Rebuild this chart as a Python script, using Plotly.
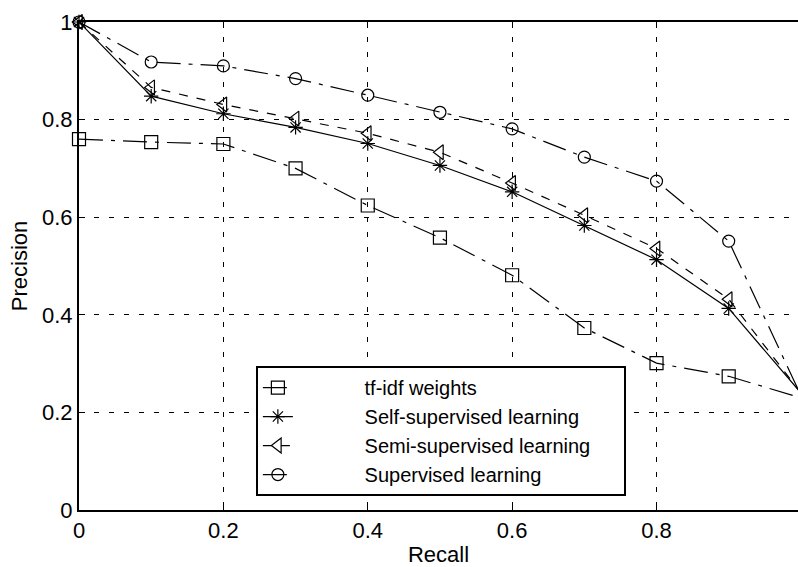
import plotly.graph_objects as go

recall = [0.0, 0.1, 0.2, 0.3, 0.4, 0.5, 0.6, 0.7, 0.8, 0.9, 1.0]
tfidf = [0.76, 0.754, 0.75, 0.70, 0.624, 0.558, 0.481, 0.373, 0.301, 0.274, 0.23]
self_sup = [1.0, 0.848, 0.812, 0.784, 0.751, 0.706, 0.652, 0.583, 0.513, 0.413, 0.24]
semi_sup = [1.0, 0.866, 0.831, 0.802, 0.772, 0.733, 0.670, 0.604, 0.536, 0.432, 0.24]
supervised = [1.0, 0.918, 0.910, 0.884, 0.850, 0.815, 0.781, 0.723, 0.674, 0.551, 0.235]

names = ["tf-idf weights", "Self-supervised learning", "Semi-supervised learning", "Supervised learning"]
tick_vals = [0, 0.2, 0.4, 0.6, 0.8, 1]
tick_text = ["0", "0.2", "0.4", "0.6", "0.8", "1"]

FONT = "Liberation Sans, Arial, sans-serif"
LPAD = "\u00a0" * 12
RPAD = "\u00a0" * 5

fig = go.Figure()
series = [
    (tfidf, names[0], "square-open", "24px,8px,4px,8px", 13),
    (self_sup, names[1], "asterisk-open", "solid", 12),
    (semi_sup, names[2], "triangle-left-open", "9px,9px", 13),
    (supervised, names[3], "circle-open", "24px,8px,4px,8px", 12),
]
for ys, nm, sym, dash, ms in series:
    fig.add_trace(go.Scatter(
        x=recall, y=ys, name=LPAD + nm + RPAD,
        mode="lines+markers",
        line=dict(color="black", width=1.2, dash=dash),
        marker=dict(symbol=sym, size=ms, color="black", line=dict(color="black", width=1.2)),
        cliponaxis=False,
    ))

fig.add_annotation(x=1, y=0, xref="x", yref="y", text="1", showarrow=False,
                   yanchor="top", yshift=-9, font=dict(family=FONT, size=22, color="black"))

fig.update_layout(
    width=798, height=567,
    margin=dict(l=79, r=0, t=22, b=57, autoexpand=False),
    paper_bgcolor="white", plot_bgcolor="white",
    font=dict(family=FONT, size=22, color="black"),
    showlegend=True,
    hovermode=False,
    legend=dict(
        x=0.246, y=0.295, xanchor="left", yanchor="top",
        bgcolor="white", bordercolor="black", borderwidth=2,
        font=dict(family=FONT, size=20, color="black"),
        tracegroupgap=0,
    ),
    xaxis=dict(
        range=[0, 0.996], tickvals=tick_vals, ticktext=tick_text,
        showgrid=True, gridcolor="black", gridwidth=1, griddash="5px,10px",
        showline=True, linecolor="black", linewidth=2, mirror="ticks",
        ticks="inside", ticklen=6, tickcolor="black", tickwidth=1,
        zeroline=False, automargin=False,
        title=dict(text="Recall", standoff=14, font=dict(size=22)),
    ),
    yaxis=dict(
        range=[0, 1], tickvals=tick_vals, ticktext=tick_text,
        showgrid=True, gridcolor="black", gridwidth=1, griddash="5px,10px",
        showline=True, linecolor="black", linewidth=2, mirror=False,
        ticks="inside", ticklen=6, tickcolor="black", tickwidth=1,
        zeroline=False, automargin=False,
        title=dict(text="Precision", standoff=8, font=dict(size=22)),
    ),
)

fig.write_html("out.html", config={"displayModeBar": False},
               post_script="document.body.style.margin='0';")
